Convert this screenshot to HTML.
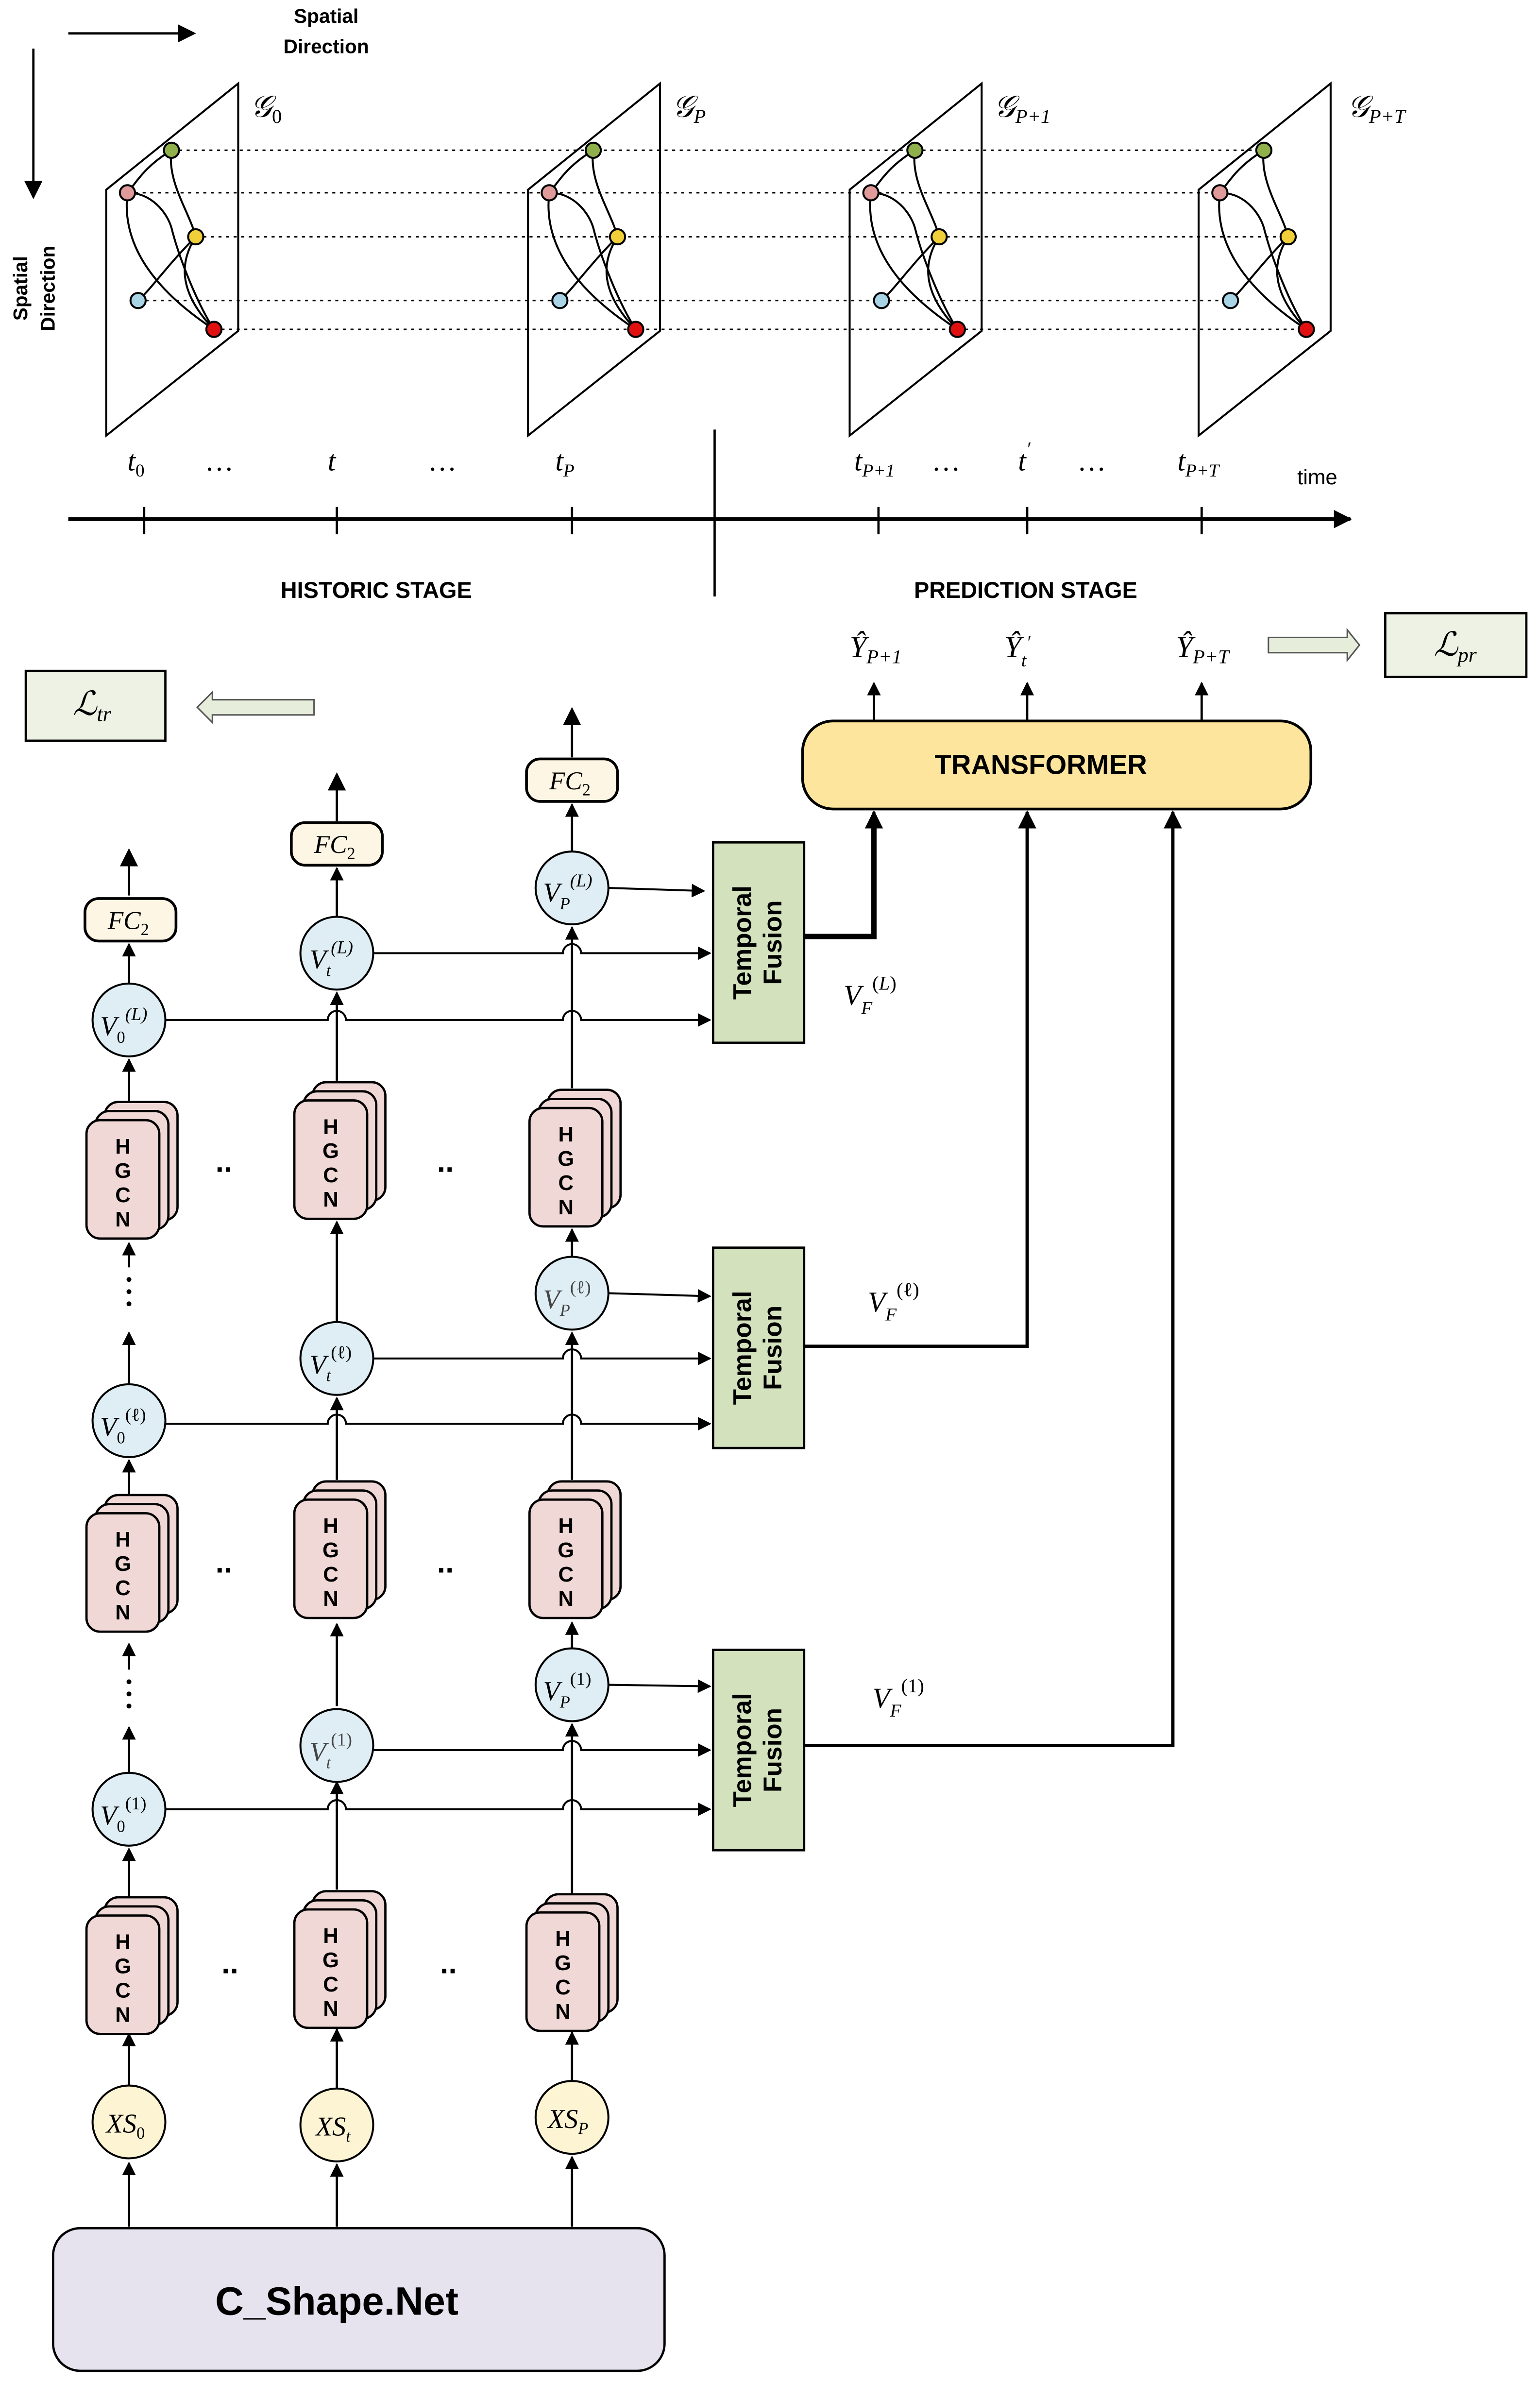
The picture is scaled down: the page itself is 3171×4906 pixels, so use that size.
<!DOCTYPE html>
<html><head><meta charset="utf-8"><style>
html,body{margin:0;padding:0;background:#fff}
svg{display:block}
.s{font-family:"Liberation Sans",sans-serif}
.m{font-family:"Liberation Serif",serif;font-style:italic}
.u{font-style:normal}
</style></head><body>
<svg width="3171" height="4906" viewBox="0 0 1015 1570" preserveAspectRatio="none" xmlns="http://www.w3.org/2000/svg">
<defs>
<marker id="a" viewBox="0 0 10 10" refX="9" refY="5" markerWidth="9" markerHeight="9" markerUnits="userSpaceOnUse" orient="auto"><path d="M0,0L10,5L0,10z" fill="#000"/></marker>
<marker id="b" viewBox="0 0 10 10" refX="9" refY="5" markerWidth="12" markerHeight="12" markerUnits="userSpaceOnUse" orient="auto"><path d="M0,0L10,5L0,10z" fill="#000"/></marker>
<g id="hg">
<rect x="-16" y="-12" width="48" height="78" rx="9" fill="#f0d8d6" stroke="#000" stroke-width="1.5"/>
<rect x="-22" y="-6" width="48" height="78" rx="9" fill="#f0d8d6" stroke="#000" stroke-width="1.5"/>
<rect x="-28" y="0" width="48" height="78" rx="9" fill="#f0d8d6" stroke="#000" stroke-width="1.5"/>
<text class="s" font-weight="bold" font-size="14" text-anchor="middle"><tspan x="-4" y="22">H</tspan><tspan x="-4" y="38">G</tspan><tspan x="-4" y="54">C</tspan><tspan x="-4" y="70">N</tspan></text>
</g>
</defs>
<rect width="1015" height="1570" fill="#fff"/>
<line x1="45" y1="22" x2="128" y2="22" stroke="#000" stroke-width="1.5" marker-end="url(#b)"/>
<text class="s" font-weight="bold" font-size="13" x="215" y="15" text-anchor="middle">Spatial</text>
<text class="s" font-weight="bold" font-size="13" x="215" y="35" text-anchor="middle">Direction</text>
<line x1="22" y1="32" x2="22" y2="130" stroke="#000" stroke-width="1.5" marker-end="url(#b)"/>
<text class="s" font-weight="bold" font-size="13" transform="translate(18,190) rotate(-90)" text-anchor="middle">Spatial</text>
<text class="s" font-weight="bold" font-size="13" transform="translate(36,190) rotate(-90)" text-anchor="middle">Direction</text>
<g stroke="#000" stroke-width="1" stroke-dasharray="2,3">
<line x1="113" y1="99" x2="833" y2="99"/><line x1="84" y1="127" x2="804" y2="127"/>
<line x1="129" y1="156" x2="849" y2="156"/><line x1="91" y1="198" x2="811" y2="198"/>
<line x1="141" y1="217" x2="861" y2="217"/>
</g>
<g id="pl" fill="none" stroke="#000" stroke-width="1.3">
<polygon points="70,125 157,55 157,218 70,287" fill="none"/>
<path d="M113,99 C95,110 90,120 84,127 M113,99 C110,120 125,140 129,156 M84,127 C100,127 110,140 113,150 C118,170 130,200 141,217 M84,127 C80,160 100,190 141,217 M129,156 C120,170 115,190 141,217 M129,156 C110,175 100,190 91,198" stroke-width="1.3"/>
<circle cx="113" cy="99" r="5" fill="#8fb04a"/><circle cx="84" cy="127" r="5" fill="#e09a9a"/>
<circle cx="129" cy="156" r="5" fill="#f0cf3a"/><circle cx="91" cy="198" r="5" fill="#a9d4e6"/>
<circle cx="141" cy="217" r="5" fill="#e01010"/>
</g>
<use href="#pl" x="278"/><use href="#pl" x="490"/><use href="#pl" x="720"/>
<text class="m" font-size="20" x="165" y="77">𝒢<tspan class="u" font-size="13" dy="4">0</tspan></text>
<text class="m" font-size="20" x="443" y="77">𝒢<tspan font-size="13" dy="4">P</tspan></text>
<text class="m" font-size="20" x="655" y="77">𝒢<tspan font-size="13" dy="4">P+1</tspan></text>
<text class="m" font-size="20" x="888" y="77">𝒢<tspan font-size="13" dy="4">P+T</tspan></text>
<line x1="45" y1="342" x2="890" y2="342" stroke="#000" stroke-width="2.5" marker-end="url(#b)"/>
<g stroke="#000" stroke-width="1.5"><line x1="95" y1="334" x2="95" y2="352"/><line x1="222" y1="334" x2="222" y2="352"/><line x1="377" y1="334" x2="377" y2="352"/><line x1="579" y1="334" x2="579" y2="352"/><line x1="677" y1="334" x2="677" y2="352"/><line x1="792" y1="334" x2="792" y2="352"/><line x1="471" y1="283" x2="471" y2="393"/></g>
<g class="m" font-size="19">
<text x="84" y="310">t<tspan class="u" font-size="12" dy="4">0</tspan></text>
<text x="135" y="310" font-style="normal">…</text>
<text x="216" y="310">t</text>
<text x="282" y="310" font-style="normal">…</text>
<text x="366" y="310">t<tspan font-size="12" dy="4">P</tspan></text>
<text x="563" y="310">t<tspan font-size="12" dy="4">P+1</tspan></text>
<text x="614" y="310" font-style="normal">…</text>
<text x="671" y="310">t<tspan font-size="13" dy="-10">′</tspan></text>
<text x="710" y="310" font-style="normal">…</text>
<text x="776" y="310">t<tspan font-size="12" dy="4">P+T</tspan></text>
</g>
<text class="s" font-size="14" x="855" y="319">time</text>
<text class="s" font-weight="bold" font-size="15" x="248" y="394" text-anchor="middle">HISTORIC STAGE</text>
<text class="s" font-weight="bold" font-size="15" x="676" y="394" text-anchor="middle">PREDICTION STAGE</text>
<rect x="913" y="404" width="93" height="42" fill="#edf2e4" stroke="#000" stroke-width="1.5"/>
<text class="m" font-size="22" x="945" y="432">ℒ<tspan font-size="14" dy="4">pr</tspan></text>
<path d="M836,420 H888 V415 L896,425 L888,435 V430 H836 Z" fill="#e6eedb" stroke="#555" stroke-width="1"/>
<rect x="17" y="442" width="92" height="46" fill="#edf2e4" stroke="#000" stroke-width="1.5"/>
<text class="m" font-size="22" x="48" y="471">ℒ<tspan font-size="14" dy="4">tr</tspan></text>
<path d="M207,461 H140 V456 L130,466 L140,476 V471 H207 Z" fill="#e6eedb" stroke="#555" stroke-width="1"/>
<rect x="529" y="475" width="335" height="58" rx="20" fill="#fde59d" stroke="#000" stroke-width="1.8"/>
<text class="s" font-weight="bold" font-size="18" x="686" y="510" text-anchor="middle">TRANSFORMER</text>
<g stroke="#000" stroke-width="1.5"><line x1="576" y1="475" x2="576" y2="450" marker-end="url(#a)"/><line x1="677" y1="475" x2="677" y2="450" marker-end="url(#a)"/><line x1="792" y1="475" x2="792" y2="450" marker-end="url(#a)"/></g>
<g class="m" font-size="20">
<text x="560" y="433">Ŷ<tspan font-size="13" dy="4">P+1</tspan></text>
<text x="662" y="433">Ŷ<tspan font-size="12" dy="6">t</tspan><tspan font-size="12" dy="-12">′</tspan></text>
<text x="775" y="433">Ŷ<tspan font-size="13" dy="4">P+T</tspan></text>
</g>
<g id="tf"><rect x="470" y="555" width="60" height="132" fill="#d3e2bd" stroke="#000" stroke-width="1.5"/>
<text class="s" font-weight="bold" font-size="17" transform="translate(495,621) rotate(-90)" text-anchor="middle">Temporal</text>
<text class="s" font-weight="bold" font-size="17" transform="translate(515,621) rotate(-90)" text-anchor="middle">Fusion</text></g>
<use href="#tf" y="267"/><use href="#tf" y="532"/>
<path d="M530,617 H576 V537" fill="none" stroke="#000" stroke-width="3.5"/>
<line x1="576" y1="560" x2="576" y2="535" stroke="#000" stroke-width="2" marker-end="url(#b)"/>
<path d="M530,887 H677 V535" fill="none" stroke="#000" stroke-width="2.2" marker-end="url(#b)"/>
<path d="M530,1150 H773 V535" fill="none" stroke="#000" stroke-width="2.2" marker-end="url(#b)"/>
<g class="m" font-size="19">
<text x="556" y="662">V<tspan font-size="12" dy="6">F</tspan><tspan class="u" font-size="13" dy="-16">(</tspan><tspan font-size="13">L</tspan><tspan class="u" font-size="13">)</tspan></text>
<text x="572" y="864">V<tspan font-size="12" dy="6">F</tspan><tspan class="u" font-size="13" dy="-16">(ℓ)</tspan></text>
<text x="575" y="1125">V<tspan font-size="12" dy="6">F</tspan><tspan class="u" font-size="13" dy="-16">(1)</tspan></text>
</g>
<g fill="none" stroke="#000" stroke-width="1.3">
<path d="M401,585 L464,587" marker-end="url(#a)"/>
<path d="M246,628 H371 a6,6 0 0 1 12,0 H468" marker-end="url(#a)"/>
<path d="M109,672 H216 a6,6 0 0 1 12,0 H371 a6,6 0 0 1 12,0 H468" marker-end="url(#a)"/>
<path d="M401,852 L468,854" marker-end="url(#a)"/>
<path d="M246,895 H371 a6,6 0 0 1 12,0 H468" marker-end="url(#a)"/>
<path d="M109,938 H216 a6,6 0 0 1 12,0 H371 a6,6 0 0 1 12,0 H468" marker-end="url(#a)"/>
<path d="M401,1110 L468,1111" marker-end="url(#a)"/>
<path d="M246,1153 H371 a6,6 0 0 1 12,0 H468" marker-end="url(#a)"/>
<path d="M109,1192 H216 a6,6 0 0 1 12,0 H371 a6,6 0 0 1 12,0 H468" marker-end="url(#a)"/>
</g>
<g stroke="#000" stroke-width="1.5" fill="none">
<line x1="85" y1="1467" x2="85" y2="1425" marker-end="url(#a)"/>
<line x1="85" y1="1374" x2="85" y2="1340" marker-end="url(#a)"/>
<line x1="85" y1="1250" x2="85" y2="1218" marker-end="url(#a)"/>
<line x1="85" y1="1168" x2="85" y2="1138" marker-end="url(#a)"/>
<line x1="85" y1="1100" x2="85" y2="1083" marker-end="url(#a)"/>
<line x1="85" y1="985" x2="85" y2="962" marker-end="url(#a)"/>
<line x1="85" y1="912" x2="85" y2="878" marker-end="url(#a)"/>
<line x1="85" y1="835" x2="85" y2="819" marker-end="url(#a)"/>
<line x1="85" y1="727" x2="85" y2="698" marker-end="url(#a)"/>
<line x1="85" y1="648" x2="85" y2="622" marker-end="url(#a)"/>
<line x1="85" y1="590" x2="85" y2="560" marker-end="url(#b)"/>
<line x1="222" y1="1467" x2="222" y2="1426" marker-end="url(#a)"/>
<line x1="222" y1="1376" x2="222" y2="1337" marker-end="url(#a)"/>
<line x1="222" y1="1245" x2="222" y2="1174" marker-end="url(#a)"/>
<line x1="222" y1="1124" x2="222" y2="1070" marker-end="url(#a)"/>
<line x1="222" y1="975" x2="222" y2="921" marker-end="url(#a)"/>
<line x1="222" y1="871" x2="222" y2="805" marker-end="url(#a)"/>
<line x1="222" y1="712" x2="222" y2="654" marker-end="url(#a)"/>
<line x1="222" y1="604" x2="222" y2="572" marker-end="url(#a)"/>
<line x1="222" y1="541" x2="222" y2="510" marker-end="url(#b)"/>
<line x1="377" y1="1467" x2="377" y2="1421" marker-end="url(#a)"/>
<line x1="377" y1="1371" x2="377" y2="1339" marker-end="url(#a)"/>
<line x1="377" y1="1248" x2="377" y2="1136" marker-end="url(#a)"/>
<line x1="377" y1="1086" x2="377" y2="1069" marker-end="url(#a)"/>
<line x1="377" y1="975" x2="377" y2="878" marker-end="url(#a)"/>
<line x1="377" y1="828" x2="377" y2="810" marker-end="url(#a)"/>
<line x1="377" y1="717" x2="377" y2="611" marker-end="url(#a)"/>
<line x1="377" y1="561" x2="377" y2="530" marker-end="url(#a)"/>
<line x1="377" y1="499" x2="377" y2="467" marker-end="url(#b)"/>
</g>
<g fill="#000"><circle cx="85" cy="843" r="1.6"/><circle cx="85" cy="851" r="1.6"/><circle cx="85" cy="859" r="1.6"/>
<circle cx="85" cy="1108" r="1.6"/><circle cx="85" cy="1116" r="1.6"/><circle cx="85" cy="1124" r="1.6"/></g>
<g class="s" font-size="20" font-weight="bold"><text x="142" y="772">..</text><text x="288" y="772">..</text><text x="142" y="1036">..</text><text x="288" y="1036">..</text><text x="146" y="1300">..</text><text x="290" y="1300">..</text></g>
<use href="#hg" x="85" y="738"/><use href="#hg" x="222" y="725"/><use href="#hg" x="377" y="730"/>
<use href="#hg" x="85" y="997"/><use href="#hg" x="222" y="988"/><use href="#hg" x="377" y="988"/>
<use href="#hg" x="85" y="1262"/><use href="#hg" x="222" y="1258"/><use href="#hg" x="375" y="1260"/>
<g fill="#fdf6e4" stroke="#000" stroke-width="1.8">
<rect x="56" y="592" width="60" height="28" rx="9"/><rect x="192" y="542" width="60" height="28" rx="9"/><rect x="347" y="500" width="60" height="28" rx="9"/></g>
<g class="m" font-size="17">
<text x="71" y="612">FC<tspan class="u" font-size="11" dy="4">2</tspan></text>
<text x="207" y="562">FC<tspan class="u" font-size="11" dy="4">2</tspan></text>
<text x="362" y="520">FC<tspan class="u" font-size="11" dy="4">2</tspan></text></g>
<g fill="#deeef4" stroke="#000" stroke-width="1.3">
<circle cx="85" cy="672" r="24"/><circle cx="222" cy="628" r="24"/><circle cx="377" cy="585" r="24"/>
<circle cx="85" cy="936" r="24"/><circle cx="222" cy="895" r="24"/><circle cx="377" cy="852" r="24"/>
<circle cx="85" cy="1192" r="24"/><circle cx="222" cy="1150" r="24"/><circle cx="377" cy="1110" r="24"/>
</g>
<g fill="#fdf4d4" stroke="#000" stroke-width="1.3">
<circle cx="85" cy="1398" r="24"/><circle cx="222" cy="1400" r="24"/><circle cx="377" cy="1395" r="24"/></g>
<g class="m" font-size="18">
<text x="66" y="682">V<tspan class="u" font-size="11" dy="5">0</tspan><tspan font-size="12" dy="-15">(L)</tspan></text>
<text x="204" y="638">V<tspan font-size="11" dy="5">t</tspan><tspan font-size="12" dy="-15">(L)</tspan></text>
<text x="358" y="594">V<tspan font-size="11" dy="5">P</tspan><tspan font-size="12" dy="-15">(L)</tspan></text>
<text x="66" y="946">V<tspan class="u" font-size="11" dy="5">0</tspan><tspan class="u" font-size="12" dy="-15">(ℓ)</tspan></text>
<text x="204" y="905">V<tspan font-size="11" dy="5">t</tspan><tspan class="u" font-size="12" dy="-15">(ℓ)</tspan></text>
<text x="358" y="862" fill="#444">V<tspan font-size="11" dy="5">P</tspan><tspan class="u" font-size="12" dy="-15">(ℓ)</tspan></text>
<text x="66" y="1202">V<tspan class="u" font-size="11" dy="5">0</tspan><tspan class="u" font-size="12" dy="-15">(1)</tspan></text>
<text x="204" y="1160" fill="#444">V<tspan font-size="11" dy="5">t</tspan><tspan class="u" font-size="12" dy="-15">(1)</tspan></text>
<text x="358" y="1120">V<tspan font-size="11" dy="5">P</tspan><tspan class="u" font-size="12" dy="-15">(1)</tspan></text>
<text x="70" y="1405">XS<tspan class="u" font-size="11" dy="4">0</tspan></text>
<text x="208" y="1407">XS<tspan font-size="11" dy="4">t</tspan></text>
<text x="361" y="1402">XS<tspan font-size="11" dy="4">P</tspan></text>
</g>
<rect x="35" y="1468" width="403" height="94" rx="18" fill="#e6e3ef" stroke="#000" stroke-width="1.5"/>
<text class="s" font-weight="bold" font-size="26" x="222" y="1525" text-anchor="middle">C_Shape.Net</text>
</svg>
</body></html>
